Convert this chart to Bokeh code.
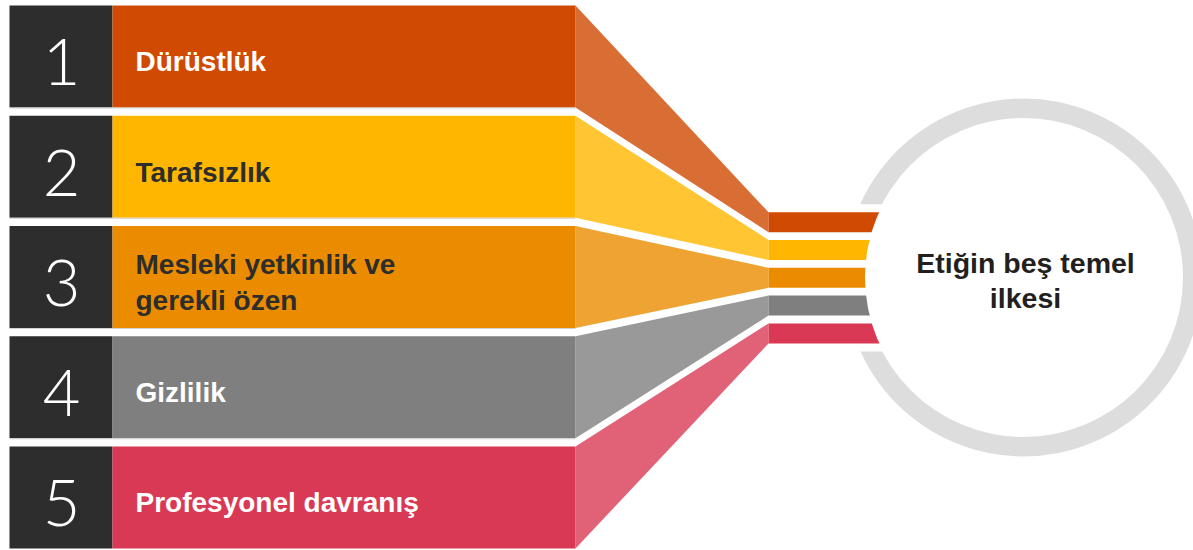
from bokeh.plotting import figure
from bokeh.models import Range1d
from bokeh.core.properties import value
from bokeh.embed import file_html
from bokeh.resources import INLINE

# ---- content ----
numbers = ["1", "2", "3", "4", "5"]
labels = ["Dürüstlük", "Tarafsızlık", "Mesleki yetkinlik ve\ngerekli özen", "Gizlilik", "Profesyonel davranış"]
colors = ["#D04A02", "#FFB600", "#EB8C00", "#7F7F7F", "#D93954"]
label_colors = ["#FFFFFF", "#2D2D2D", "#2D2D2D", "#FFFFFF", "#FFFFFF"]
center_title = ["Etiğin beş temel", "ilkesi"]

# ---- layout (pixel-like data space) ----
ROW_TOP0, ROW_STEP, ROW_H = 5.0, 110.25, 102.0
BOX_X0, BOX_X1, BAR_X1, FUN_X1, SB_X1 = 9.0, 112.0, 575.0, 768.0, 905.0
SB_TOP0, SB_STEP, SB_H = 211.7, 27.8, 20.0
CX, CY, R_OUT, R_IN = 1023.0, 277.0, 179.0, 158.5
DARK = "#2D2D2D"
RING = "#DDDDDD"
NUM_SIZE, LAB_SIZE, TIT_SIZE = 65, 28, 28.5
LAB_SHIFT, TIT_SHIFT = 0.34, 0.38   # compensation of the renderer's baseline offset (in em)

n = len(labels)
row_top = [ROW_TOP0 + i * ROW_STEP for i in range(n)]
row_bot = [t + ROW_H for t in row_top]
sb_top = [SB_TOP0 + i * SB_STEP for i in range(n)]
sb_bot = [t + SB_H for t in sb_top]

p = figure(width=1193, height=550, x_range=Range1d(0, 1193), y_range=Range1d(550, 0),
           output_backend="svg", toolbar_location=None, min_border=0)
p.axis.visible = False
p.grid.visible = False
p.outline_line_color = None
p.background_fill_color = "white"
p.border_fill_color = "white"

# ring
p.circle(x=[CX], y=[CY], radius=R_OUT, fill_color=RING, line_color=None)
p.circle(x=[CX], y=[CY], radius=R_IN + 1.0, fill_color="white", line_color=None)
# cut-out of ring where the bars enter
p.quad(left=[830], right=[SB_X1], top=[sb_top[0] - 8], bottom=[sb_bot[-1] + 8],
       fill_color="white", line_color=None)

# dark number boxes
p.quad(left=[BOX_X0] * n, right=[BOX_X1] * n, top=row_top, bottom=row_bot,
       fill_color=DARK, line_color=None)
# coloured bars
p.quad(left=[BOX_X1] * n, right=[BAR_X1] * n, top=row_top, bottom=row_bot,
       fill_color=colors, line_color=None)
# thin grey lines on top of the gaps
gap_y = [b + 0.5 for b in row_bot[:-1]]
p.segment(x0=[BOX_X0] * (n - 1), x1=[BAR_X1] * (n - 1), y0=gap_y, y1=gap_y,
          line_color="#D2D2D2", line_width=1)

# funnel trapezoids
xs = [[BAR_X1, FUN_X1, FUN_X1, BAR_X1] for i in range(n)]
ys = [[row_top[i], sb_top[i], sb_bot[i], row_bot[i]] for i in range(n)]
p.patches(xs=xs, ys=ys, fill_color=colors, fill_alpha=0.8, line_color=None)

# small bars entering the circle
p.quad(left=[FUN_X1] * n, right=[SB_X1] * n, top=sb_top, bottom=sb_bot,
       fill_color=colors, line_color=None)
# inner white disc clips the small bars
p.circle(x=[CX], y=[CY], radius=R_IN, fill_color="white", line_color=None)

# numbers
p.text(x=[(BOX_X0 + BOX_X1) / 2 + 0.5] * n,
       y=[t + 81 - 0.37 * NUM_SIZE for t in row_top], text=numbers,
       text_color="white", text_align="center", text_baseline="alphabetic",
       text_font=value("Lato Light, Roboto Light, Liberation Sans, sans-serif"),
       text_font_size=value(f"{NUM_SIZE}px"))

# labels
lx, ly, lt, lc = [], [], [], []
for i, lab in enumerate(labels):
    lines = lab.split("\n")
    first = row_top[i] + 66 - (len(lines) - 1) * 18.2
    for j, ln in enumerate(lines):
        lx.append(135)
        ly.append(first + j * 36.4 - LAB_SHIFT * LAB_SIZE)
        lt.append(ln)
        lc.append(label_colors[i])
p.text(x=lx, y=ly, text=lt, text_color=lc, text_align="left", text_baseline="alphabetic",
       text_font=value("Liberation Sans"), text_font_style="bold",
       text_font_size=value(f"{LAB_SIZE}px"))

# centre title
p.text(x=[1025] * len(center_title),
       y=[273 + 35 * k - TIT_SHIFT * TIT_SIZE for k in range(len(center_title))],
       text=center_title, text_color="#231F20", text_align="center", text_baseline="alphabetic",
       text_font=value("Liberation Sans"), text_font_style="bold",
       text_font_size=value(f"{TIT_SIZE}px"))

open("out.html", "w").write(file_html(p, INLINE))
